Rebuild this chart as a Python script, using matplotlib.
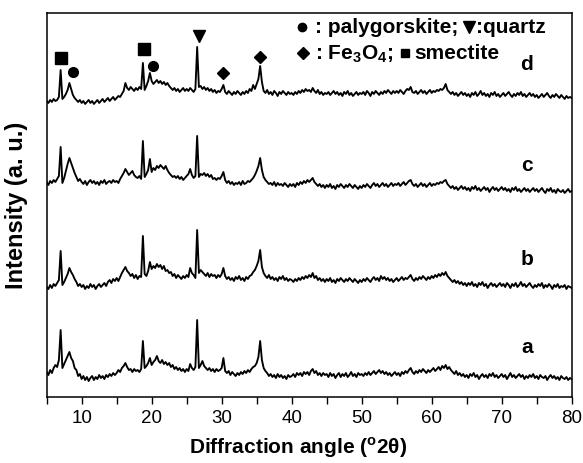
import matplotlib
matplotlib.use("Agg")
import matplotlib.pyplot as plt
import numpy as np

plt.rcParams["font.family"] = ["Liberation Sans", "DejaVu Sans"]
plt.rcParams["mathtext.fontset"] = "custom"
plt.rcParams["mathtext.rm"] = "Liberation Sans:bold"
plt.rcParams["mathtext.bf"] = "Liberation Sans:bold"

# 2-theta sampling, 0.25 deg steps from 5 to 80 (301 points)
two_theta = np.linspace(5, 80, 301)

# intensity of each pattern above its own offset (a. u.),
# one row = 5 degrees
pattern_a = [
    10, 7, 12, 9, 14, 17, 15, 22, 52, 14, 18, 22, 26, 30, 24, 21, 14, 12, 6, 8,
    3, 6, 2, 5, 1, 4, 6, 2, 5, 3, 7, 4, 6, 3, 7, 5, 8, 6, 9, 7,
    9, 12, 10, 14, 16, 19, 15, 12, 13, 10, 13, 11, 12, 10, 13, 41, 14, 16, 19, 24,
    17, 20, 22, 26, 21, 19, 22, 18, 20, 17, 19, 15, 17, 13, 15, 12, 14, 11, 13, 10,
    13, 11, 18, 14, 12, 15, 62, 14, 17, 21, 16, 14, 12, 14, 11, 13, 10, 13, 11, 12,
    14, 24, 11, 9, 11, 7, 10, 8, 6, 9, 7, 10, 8, 11, 9, 12, 10, 13, 15, 16,
    19, 25, 41, 22, 14, 11, 9, 6, 8, 5, 7, 4, 8, 5, 7, 4, 6, 3, 7, 5,
    6, 8, 5, 9, 7, 9, 6, 10, 8, 10, 7, 11, 13, 9, 11, 7, 9, 6, 9, 7,
    8, 5, 9, 6, 8, 4, 7, 9, 5, 8, 6, 9, 5, 7, 10, 6, 8, 5, 9, 7,
    8, 6, 9, 7, 10, 7, 9, 11, 8, 10, 12, 9, 11, 8, 10, 7, 9, 6, 8, 10,
    7, 9, 6, 10, 8, 11, 9, 12, 14, 10, 8, 11, 9, 12, 10, 13, 11, 9, 12, 10,
    12, 14, 11, 13, 15, 12, 16, 14, 17, 13, 15, 12, 10, 8, 11, 7, 9, 6, 8, 5,
    7, 4, 8, 6, 9, 5, 7, 3, 6, 8, 5, 7, 4, 8, 6, 9, 5, 7, 4, 6,
    8, 5, 7, 3, 6, 9, 5, 7, 4, 6, 8, 5, 7, 3, 6, 4, 7, 5, 8, 4,
    6, 3, 7, 5, 4, 6, 2, 5, 7, 4, 6, 3, 5, 2, 6, 4, 3, 5, 2, 4,
    3,
]
pattern_b = [
    10, 8, 12, 9, 13, 11, 14, 17, 46, 12, 15, 19, 23, 29, 25, 22, 18, 15, 11, 13,
    10, 12, 8, 11, 9, 13, 10, 12, 8, 11, 13, 10, 12, 14, 11, 15, 17, 14, 18, 16,
    19, 16, 20, 24, 27, 30, 26, 24, 21, 23, 19, 22, 18, 21, 20, 61, 23, 21, 26, 35,
    28, 31, 29, 33, 30, 32, 28, 31, 26, 27, 24, 25, 21, 23, 19, 22, 20, 18, 21, 19,
    22, 20, 29, 24, 22, 19, 67, 24, 27, 25, 23, 21, 24, 20, 23, 21, 22, 19, 22, 20,
    23, 29, 21, 18, 20, 17, 19, 16, 20, 18, 21, 17, 19, 16, 20, 18, 21, 22, 25, 27,
    31, 36, 47, 30, 24, 21, 19, 22, 18, 20, 17, 19, 16, 20, 18, 21, 17, 19, 16, 18,
    17, 15, 18, 16, 19, 17, 20, 18, 21, 19, 22, 20, 24, 19, 21, 17, 19, 16, 18, 15,
    18, 16, 19, 15, 17, 14, 18, 16, 19, 17, 15, 18, 16, 19, 17, 15, 18, 16, 14, 17,
    15, 18, 16, 19, 17, 15, 18, 20, 17, 19, 16, 21, 18, 20, 17, 19, 16, 18, 15, 17,
    19, 16, 18, 20, 17, 19, 18, 20, 22, 18, 16, 19, 17, 20, 18, 21, 19, 17, 20, 18,
    21, 19, 22, 20, 23, 21, 24, 22, 25, 21, 19, 17, 15, 17, 14, 16, 13, 15, 12, 14,
    11, 14, 12, 15, 11, 13, 10, 14, 12, 15, 11, 13, 9, 12, 14, 11, 13, 10, 12, 14,
    11, 13, 10, 14, 12, 9, 13, 11, 14, 10, 12, 15, 11, 13, 10, 12, 14, 11, 9, 12,
    10, 13, 11, 14, 9, 12, 10, 13, 11, 8, 12, 10, 13, 9, 11, 10, 12, 8, 11, 10,
    9,
]
pattern_c = [
    15, 12, 16, 14, 17, 15, 18, 21, 50, 14, 19, 26, 33, 39, 34, 29, 24, 20, 16, 18,
    15, 13, 16, 12, 15, 17, 14, 16, 13, 15, 12, 16, 14, 17, 13, 15, 16, 14, 17, 15,
    16, 14, 18, 21, 24, 28, 25, 22, 24, 26, 22, 20, 19, 21, 18, 56, 20, 23, 27, 38,
    25, 29, 27, 31, 29, 32, 30, 28, 31, 27, 24, 22, 20, 21, 19, 21, 18, 20, 17, 19,
    21, 23, 28, 22, 19, 21, 61, 20, 23, 22, 24, 21, 23, 20, 22, 18, 19, 17, 19, 18,
    21, 25, 17, 14, 16, 13, 15, 12, 14, 13, 15, 12, 16, 13, 14, 16, 15, 17, 19, 22,
    26, 31, 39, 27, 20, 17, 15, 13, 14, 12, 15, 11, 14, 12, 13, 11, 14, 12, 10, 13,
    11, 13, 10, 14, 12, 15, 13, 16, 14, 17, 15, 17, 19, 15, 13, 11, 13, 10, 12, 9,
    12, 10, 13, 9, 11, 8, 12, 10, 13, 11, 9, 12, 10, 13, 11, 9, 12, 10, 8, 11,
    9, 12, 10, 13, 11, 9, 12, 14, 11, 13, 10, 12, 14, 11, 13, 10, 12, 14, 11, 13,
    12, 14, 11, 13, 15, 12, 14, 16, 17, 13, 11, 13, 10, 12, 14, 11, 13, 10, 12, 14,
    11, 13, 12, 14, 13, 15, 14, 16, 17, 13, 11, 9, 11, 8, 10, 7, 9, 11, 8, 10,
    7, 9, 6, 10, 8, 11, 7, 9, 6, 8, 10, 7, 9, 5, 8, 10, 7, 9, 6, 8,
    10, 7, 9, 6, 8, 5, 9, 7, 10, 6, 8, 5, 7, 9, 6, 8, 5, 7, 9, 6,
    8, 5, 7, 9, 6, 4, 8, 6, 9, 5, 7, 4, 8, 6, 5, 7, 4, 6, 8, 5,
    6,
]
pattern_d = [
    11, 9, 12, 10, 13, 11, 12, 15, 42, 13, 15, 18, 22, 29, 23, 17, 14, 12, 10, 12,
    9, 11, 8, 10, 12, 9, 11, 8, 10, 12, 9, 11, 13, 10, 12, 14, 11, 13, 15, 12,
    14, 16, 15, 18, 21, 29, 24, 22, 25, 23, 21, 24, 22, 25, 23, 49, 22, 26, 31, 39,
    31, 28, 30, 32, 29, 31, 28, 30, 27, 29, 26, 24, 22, 24, 21, 23, 20, 22, 24, 21,
    23, 21, 24, 22, 20, 23, 65, 25, 26, 23, 25, 22, 24, 21, 23, 20, 22, 19, 21, 20,
    23, 27, 20, 18, 21, 19, 17, 20, 18, 21, 19, 17, 20, 18, 21, 19, 23, 21, 27, 23,
    28, 33, 46, 30, 21, 19, 22, 18, 20, 17, 21, 19, 16, 20, 18, 21, 19, 17, 20, 18,
    19, 17, 20, 18, 21, 19, 22, 20, 23, 21, 22, 20, 24, 21, 19, 22, 18, 20, 17, 19,
    18, 20, 17, 19, 21, 18, 20, 17, 19, 16, 20, 18, 21, 17, 19, 16, 18, 20, 17, 19,
    18, 20, 17, 21, 19, 16, 20, 18, 21, 19, 17, 20, 18, 21, 19, 22, 20, 18, 21, 19,
    21, 19, 22, 20, 18, 21, 23, 22, 25, 20, 19, 21, 18, 20, 22, 19, 21, 18, 20, 22,
    19, 21, 20, 22, 21, 23, 22, 24, 28, 22, 20, 18, 20, 17, 19, 16, 18, 20, 17, 19,
    16, 18, 15, 19, 17, 20, 16, 18, 21, 17, 19, 16, 18, 15, 19, 17, 20, 16, 18, 15,
    17, 19, 16, 18, 20, 17, 15, 18, 16, 19, 17, 20, 16, 18, 15, 17, 19, 16, 18, 15,
    17, 14, 16, 18, 15, 17, 19, 16, 14, 17, 15, 18, 16, 14, 17, 15, 13, 16, 14, 15,
    14,
]

sample_names = ["a", "b", "c", "d"]
sample_offsets = [15, 100, 200, 285]
label_heights = [50, 138, 231, 332]

# phase markers above the peaks
smectite_x, smectite_y = [7.05, 18.9], [339, 348]
palygorskite_x, palygorskite_y = [8.7, 20.2], [325, 331]
quartz_x, quartz_y = [26.8], [361]
magnetite_x, magnetite_y = [30.2, 35.5], [324, 340]

# key: symbol positions and the text that follows each symbol
key_symbols = ["o", "v", "D", "s"]
key_symbol_x = [41.43, 65.33, 41.57, 56.2]
key_symbol_y = [369.5, 370.0, 344.3, 343.7]
key_symbol_size = [6, 8, 6, 6]
key_texts = [": palygorskite;", ":quartz", ": Fe$_{3}$O$_{4}$;", "smectite"]
key_text_x = [43.4, 66.4, 43.4, 57.5]
key_text_y = [364, 364, 338, 338]


fig = plt.figure(figsize=(5.83, 4.63), dpi=100)
ax = fig.add_axes([0.080, 0.1425, 0.9006, 0.8295])

patterns = [pattern_a, pattern_b, pattern_c, pattern_d]
for name, pat, off, ly in zip(sample_names, patterns, sample_offsets, label_heights):
    ax.plot(two_theta, np.asarray(pat) + off, color="black", lw=1.35)
    ax.text(73.6, ly, name, fontsize=15, fontweight="bold", ha="center", va="center")

ax.plot(smectite_x, smectite_y, "s", color="black", ms=8, ls="none")
ax.plot(palygorskite_x, palygorskite_y, "o", color="black", ms=7, ls="none")
ax.plot(quartz_x, quartz_y, "v", color="black", ms=9, ls="none")
ax.plot(magnetite_x, magnetite_y, "D", color="black", ms=6, ls="none")

for m, mx, my, ms in zip(key_symbols, key_symbol_x, key_symbol_y, key_symbol_size):
    ax.plot([mx], [my], m, color="black", ms=ms, ls="none")
for t, tx, ty in zip(key_texts, key_text_x, key_text_y):
    ax.text(tx, ty, t, fontsize=15, fontweight="bold", ha="left", va="baseline")

ax.set_xlim(5, 80)
ax.set_ylim(0, 384)
ax.set_xticks(np.arange(10, 81, 10))
ax.set_xticks(np.arange(5, 81, 10), minor=True)
ax.set_yticks([])
ax.tick_params(axis="x", which="both", direction="out", length=5, width=1,
               labelsize=13.5, pad=4)
for sp in ax.spines.values():
    sp.set_linewidth(1.1)

ax.set_xlabel("Diffraction angle ($^{\\mathrm{o}}$2\u03b8)", fontsize=15,
              fontweight="bold", labelpad=6)
ax.xaxis.set_label_coords(0.479, -0.1)
ax.xaxis.label.set_va("top")
ax.set_ylabel("Intensity (a. u.)", fontsize=17, fontweight="bold")
ax.yaxis.set_label_coords(-0.036, 0.5)

fig.savefig("out.png", dpi=100)
